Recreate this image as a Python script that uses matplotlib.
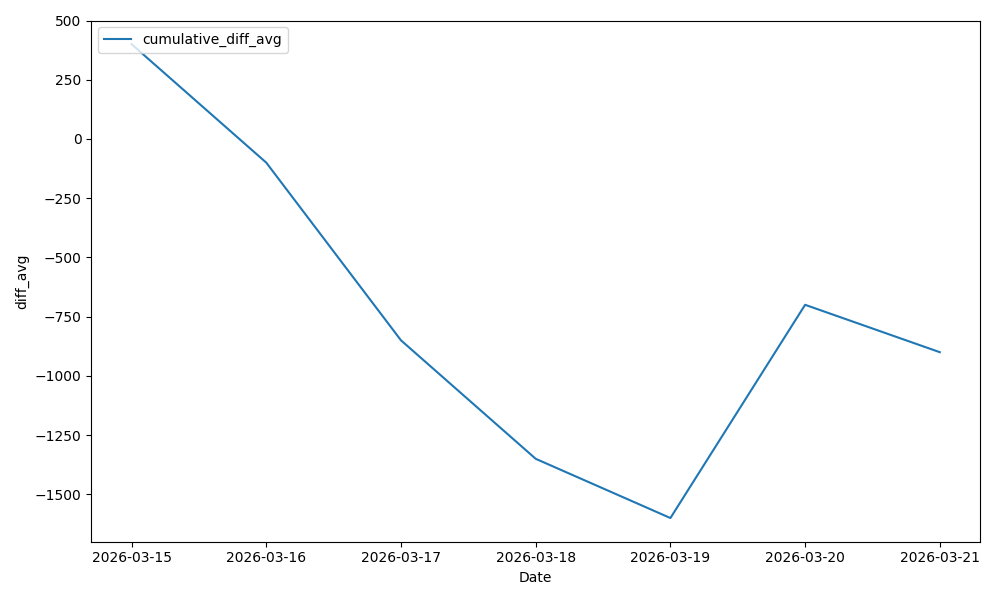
import matplotlib
matplotlib.use("Agg")
import matplotlib.pyplot as plt
import pandas as pd

dates = ["2026-03-15", "2026-03-16", "2026-03-17", "2026-03-18",
         "2026-03-19", "2026-03-20", "2026-03-21"]
cumulative_diff_avg = [400, -100, -850, -1350, -1600, -700, -900]

x = pd.to_datetime(dates)

fig, ax = plt.subplots(figsize=(10, 6), dpi=100)
ax.plot(x, cumulative_diff_avg, label="cumulative_diff_avg", color="#1f77b4")
ax.set_xticks(x)
ax.set_xticklabels(dates)
ax.set_xlabel("Date")
ax.set_ylabel("diff_avg")
ax.legend(loc="upper left")
fig.tight_layout()
fig.savefig("out.png")
